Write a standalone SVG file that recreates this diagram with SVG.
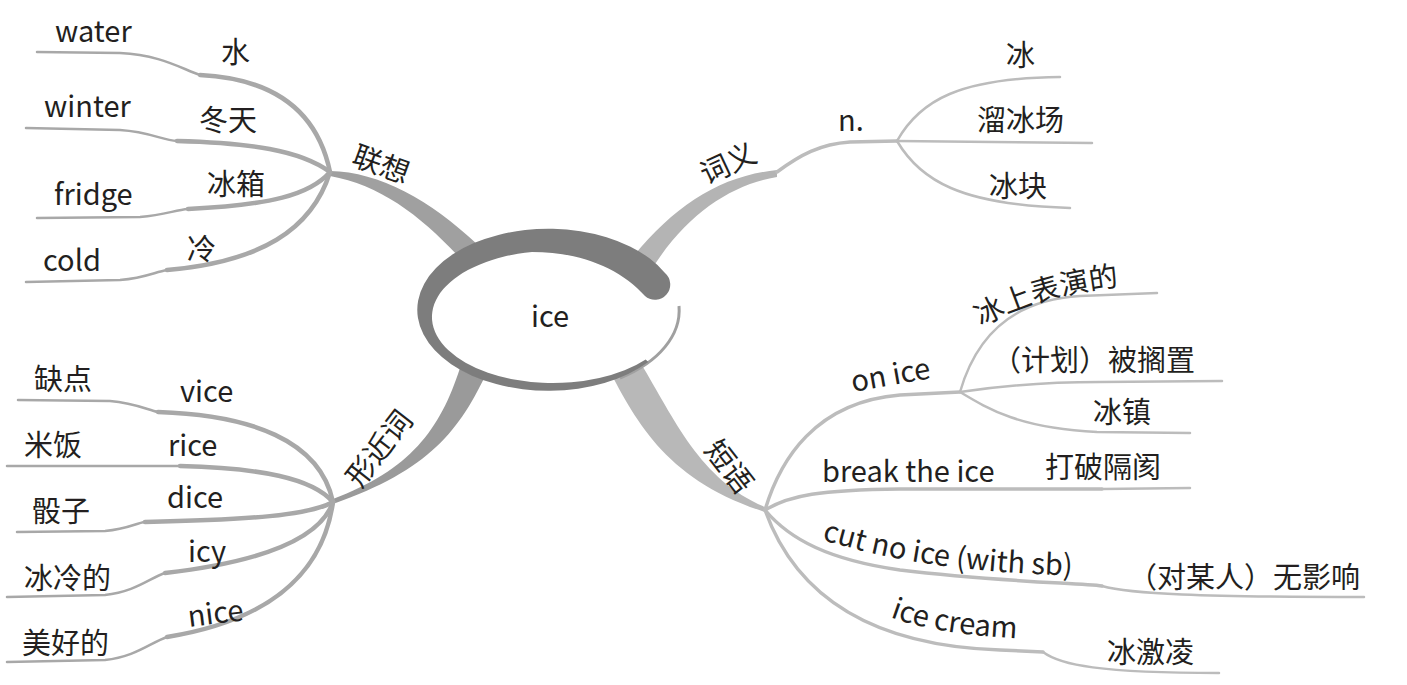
<svg xmlns="http://www.w3.org/2000/svg" width="1407" height="685" viewBox="0 0 1407 685">
<style>
text{font-family:"Noto Sans CJK SC","Noto Sans",sans-serif;font-size:29px;fill:#231f20}
.thk{fill:none;stroke:#a8a8a8;stroke-width:4.5;stroke-linecap:round}
.thn{fill:none;stroke:#a8a8a8;stroke-width:2.5;stroke-linecap:round}
.rt{fill:none;stroke:#bcbcbc;stroke-width:3.5;stroke-linecap:round}
.rn{fill:none;stroke:#bcbcbc;stroke-width:2.5;stroke-linecap:round}
</style>
<defs>
<path id="p1" d="M 981 327 C 1014 308, 1062 290, 1148 283"/>
<path id="p2" d="M 822 540 C 870 553, 930 572, 1085 576"/>
<path id="p3" d="M 890 617 C 920 628, 960 636, 1030 639"/>
</defs>
<g id="connectors">
<path d="M 330 171 C 380 172, 430 200, 478 245 L 460 258 C 420 215, 380 185, 330 176 Z" fill="#a0a0a0"/>
<path d="M 777 170 C 720 176, 675 205, 632 258 L 650 272 C 685 215, 730 185, 777 177 Z" fill="#b4b4b4"/>
<path d="M 488 370 C 460 430, 430 470, 333 504 L 333 499 C 410 470, 440 430, 460 368 Z" fill="#9a9a9a"/>
<path d="M 605 362 C 635 420, 665 480, 765 512 L 765 507 C 700 480, 675 420, 640 362 Z" fill="#b8b8b8"/>
<path class="thk" d="M 200 75 C 260 78, 315 100, 330 172"/>
<path class="thn" d="M 37 52 L 120 53 C 160 55, 180 68, 200 75"/>
<path class="thk" d="M 177 141 C 250 143, 300 150, 330 172"/>
<path class="thn" d="M 26 128 L 120 130 C 150 132, 162 140, 177 141"/>
<path class="thk" d="M 188 209 C 270 205, 310 195, 330 172"/>
<path class="thn" d="M 37 218 L 140 217 C 165 215, 175 210, 188 209"/>
<path class="thk" d="M 167 270 C 260 262, 312 230, 330 172"/>
<path class="thn" d="M 26 282 L 120 280 C 145 278, 155 272, 167 270"/>
<path class="thk" d="M 158 412 C 250 415, 320 440, 333 502"/>
<path class="thn" d="M 18 400 L 110 401 C 135 403, 148 410, 158 412"/>
<path class="thk" d="M 180 466 C 260 468, 312 478, 333 502"/>
<path class="thn" d="M 7 466 L 180 466"/>
<path class="thk" d="M 145 522 C 250 520, 310 515, 333 502"/>
<path class="thn" d="M 17 532 L 105 531 C 128 529, 136 523, 145 522"/>
<path class="thk" d="M 165 573 C 260 562, 320 540, 333 502"/>
<path class="thn" d="M 7 597 L 105 595 C 135 592, 150 578, 165 573"/>
<path class="thk" d="M 167 637 C 260 622, 322 580, 333 502"/>
<path class="thn" d="M 7 662 L 105 660 C 135 657, 150 643, 167 637"/>
<path class="rt" d="M 777 172 C 800 155, 820 144, 850 142 L 897 141"/>
<path class="rn" d="M 897 141 C 920 100, 960 78, 1060 77"/>
<path class="rn" d="M 897 141 L 1092 143"/>
<path class="rn" d="M 897 141 C 920 180, 960 205, 1070 208"/>
<path class="rt" d="M 765 510 C 780 460, 815 402, 900 395 L 960 392"/>
<path class="rn" d="M 960 392 C 975 340, 1010 300, 1080 296 L 1157 293"/>
<path class="rn" d="M 960 392 C 1000 386, 1050 382, 1100 382 L 1222 381"/>
<path class="rn" d="M 960 392 C 990 410, 1020 428, 1097 432 L 1190 433"/>
<path class="rt" d="M 765 510 C 790 495, 820 490, 900 489 L 1102 489"/>
<path class="rn" d="M 1102 489 L 1190 488"/>
<path class="rt" d="M 765 510 C 790 540, 830 560, 900 570 C 1000 582, 1080 583, 1102 586"/>
<path class="rn" d="M 1102 586 C 1130 594, 1200 597, 1364 597"/>
<path class="rt" d="M 765 510 C 790 580, 850 645, 1000 650 L 1043 652"/>
<path class="rn" d="M 1043 652 C 1060 665, 1100 673, 1219 673"/>
</g>
<g id="center">
<ellipse cx="548" cy="310" rx="130" ry="80" fill="#fff"/>
<path d="M 679 306 A 131 81 0 0 1 620 378" fill="none" stroke="#a0a0a0" stroke-width="3"/>
<path d="M 665 273 A 131 81 0 1 0 648.3 362.1 L 645.7 359.4 A 121 66 0 1 1 532 252 C 580 252, 620 268, 645 296 A 15 15 0 0 0 665 273 Z" fill="#7d7d7d"/>
<text x="550" y="327" text-anchor="middle">ice</text>
</g>
<g id="n-lianxiang"><text transform="translate(382,162) rotate(20)" text-anchor="middle" dominant-baseline="central">联想</text></g>
<g id="n-water"><text x="55" y="42">water</text></g>
<g id="n-shui"><text x="221" y="63">水</text></g>
<g id="n-winter"><text x="44" y="117">winter</text></g>
<g id="n-dongtian"><text x="199" y="131">冬天</text></g>
<g id="n-fridge"><text x="54" y="205">fridge</text></g>
<g id="n-bingxiang"><text x="207" y="195">冰箱</text></g>
<g id="n-cold"><text x="43" y="271">cold</text></g>
<g id="n-leng"><text x="187" y="260">冷</text></g>
<g id="n-xingjinci"><text transform="translate(377,447) rotate(-52)" text-anchor="middle" dominant-baseline="central">形近词</text></g>
<g id="n-quedian"><text x="34" y="390">缺点</text></g>
<g id="n-vice"><text x="180" y="402">vice</text></g>
<g id="n-mifan"><text x="24" y="456">米饭</text></g>
<g id="n-rice"><text x="168" y="456">rice</text></g>
<g id="n-touzi"><text x="32" y="522">骰子</text></g>
<g id="n-dice"><text x="167" y="508">dice</text></g>
<g id="n-binglengde"><text x="24" y="589">冰冷的</text></g>
<g id="n-icy"><text x="188" y="562">icy</text></g>
<g id="n-meihaode"><text x="22" y="654">美好的</text></g>
<g id="n-nice"><text transform="translate(189,627) rotate(-7)">nice</text></g>
<g id="n-ciyi"><text transform="translate(727,161) rotate(-25)" text-anchor="middle" dominant-baseline="central">词义</text></g>
<g id="n-n"><text x="838" y="131">n.</text></g>
<g id="n-bing"><text x="1006" y="66">冰</text></g>
<g id="n-liubingchang"><text x="977" y="131">溜冰场</text></g>
<g id="n-bingkuai"><text x="989" y="197">冰块</text></g>
<g id="n-duanyu"><text transform="translate(731,465) rotate(52)" text-anchor="middle" dominant-baseline="central">短语</text></g>
<g id="n-onice"><text transform="translate(853,392) rotate(-10)">on ice</text></g>
<g id="n-bingshang"><text><textPath href="#p1">冰上表演的</textPath></text></g>
<g id="n-jihua"><text x="992" y="371">（计划）被搁置</text></g>
<g id="n-bingzhen"><text x="1093" y="423">冰镇</text></g>
<g id="n-break"><text x="822" y="482">break the ice</text></g>
<g id="n-dapo"><text x="1045" y="478">打破隔阂</text></g>
<g id="n-cutnoice"><text><textPath href="#p2">cut no ice (with sb)</textPath></text></g>
<g id="n-wuyingxiang"><text x="1128" y="588">（对某人）无影响</text></g>
<g id="n-icecream"><text><textPath href="#p3">ice cream</textPath></text></g>
<g id="n-bingjiling"><text x="1107" y="663">冰激凌</text></g>
</svg>
